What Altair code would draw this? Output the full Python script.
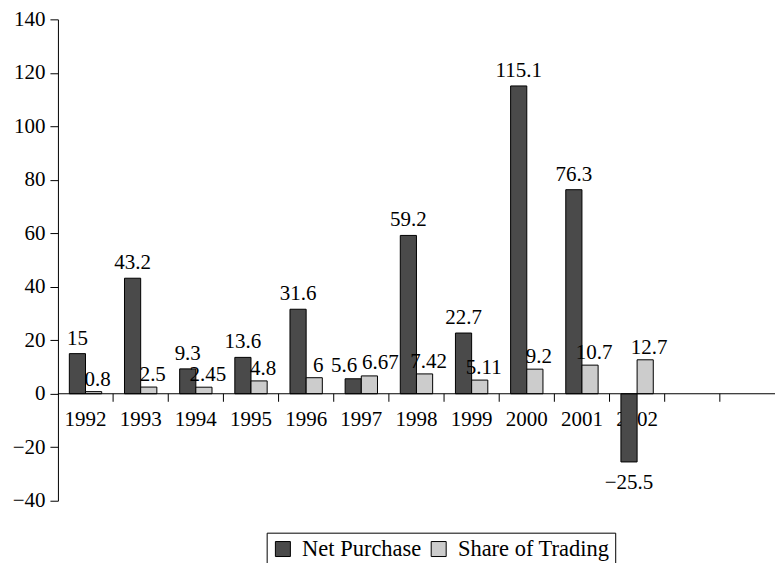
import altair as alt
import pandas as pd

years = ["1992", "1993", "1994", "1995", "1996", "1997", "1998", "1999", "2000", "2001", "2002"]
extra = [" ", "  "]
net_purchase = [15, 43.2, 9.3, 13.6, 31.6, 5.6, 59.2, 22.7, 115.1, 76.3, -25.5]
share_trading = [0.8, 2.5, 2.45, 4.8, 6, 6.67, 7.42, 5.11, 9.2, 10.7, 12.7]
series = ["Net Purchase", "Share of Trading"]
y_ticks = [-40, -20, 0, 20, 40, 60, 80, 100, 120, 140]

rows = []
for i, yr in enumerate(years):
    rows.append({"year": yr, "series": series[0], "value": net_purchase[i]})
    rows.append({"year": yr, "series": series[1], "value": share_trading[i]})
df = pd.DataFrame(rows)
cats = years + extra
tick_df = pd.DataFrame({"year": cats[1:]})
label_df = pd.DataFrame({"year": years})
zero_df = pd.DataFrame({"z": [0]})

FONT = "Liberation Serif"
FS = 21
W = 718

x_scale = alt.Scale(domain=cats, paddingInner=0, paddingOuter=0)
x_enc = alt.X("year:N", sort=cats, scale=x_scale, axis=None)
y_scale = alt.Scale(domain=[-40, 140], nice=False, zero=False)
xoff = alt.XOffset("series:N", sort=series,
                   scale=alt.Scale(domain=series, paddingInner=0, paddingOuter=0.705))

bars = alt.Chart(df).mark_bar(stroke="black", strokeWidth=1).encode(
    x=x_enc,
    xOffset=xoff,
    y=alt.Y("value:Q", scale=y_scale, axis=alt.Axis(title=None, values=y_ticks)),
    color=alt.Color("series:N", sort=series,
                    scale=alt.Scale(domain=series, range=["#4a4a4a", "#cccccc"]),
                    legend=alt.Legend(title=None, orient="none", legendX=209, legendY=514,
                                      direction="horizontal", strokeColor="black", fillColor="white",
                                      padding=5, symbolType="square", symbolSize=225,
                                      symbolStrokeColor="black", symbolStrokeWidth=1,
                                      labelFont=FONT, labelFontSize=22.5, labelColor="black",
                                      labelOffset=8, columnPadding=6)),
)

axis_line = alt.Chart(zero_df).mark_rule(color="black", strokeWidth=1).encode(
    y=alt.Y("z:Q", scale=y_scale), x=alt.value(0), x2=alt.value(W))

ticks = alt.Chart(tick_df).mark_rule(color="black", strokeWidth=1).encode(
    x=alt.X("year:N", sort=cats, scale=x_scale, axis=None, bandPosition=0),
    y=alt.datum(0), y2=alt.datum(-3))

xlabels = alt.Chart(label_df).mark_text(
    font=FONT, fontSize=FS, color="black", baseline="alphabetic", dy=32).encode(
    x=x_enc, y=alt.datum(0), text="year:N")

base_text = alt.Chart(df).encode(x=x_enc, xOffset=xoff, y=alt.Y("value:Q", scale=y_scale),
                                 text=alt.Text("value:Q"))

t_net_pos = base_text.transform_filter(
    "datum.series == 'Net Purchase' && datum.value >= 0 && datum.year != '1997'").mark_text(
    font=FONT, fontSize=FS, color="black", baseline="alphabetic", dy=-9)
t_net_97 = base_text.transform_filter(
    "datum.series == 'Net Purchase' && datum.year == '1997'").mark_text(
    font=FONT, fontSize=FS, color="black", baseline="alphabetic", dy=-7, dx=-9)
t_net_neg = base_text.transform_filter(
    "datum.series == 'Net Purchase' && datum.value < 0").mark_text(
    font=FONT, fontSize=FS, color="black", baseline="alphabetic", dy=27)
t_share = base_text.transform_filter(
    "datum.series == 'Share of Trading' && datum.year != '1997'").mark_text(
    font=FONT, fontSize=FS, color="black", baseline="alphabetic", dy=-6, dx=4)
t_share_97 = base_text.transform_filter(
    "datum.series == 'Share of Trading' && datum.year == '1997'").mark_text(
    font=FONT, fontSize=FS, color="black", baseline="alphabetic", dy=-7, dx=11)

chart = alt.layer(xlabels, bars, axis_line, ticks, t_net_pos, t_net_97, t_net_neg,
                  t_share, t_share_97).properties(
    width=W, height=482, background="white",
    padding={"left": 4, "top": 0, "right": 0, "bottom": 0},
).configure_view(stroke=None).configure_axis(
    grid=False, tickSize=8, tickColor="black", domainColor="black",
    labelFont=FONT, labelFontSize=FS, labelColor="black", labelPadding=5,
)

chart.save("out.html", embed_options={"renderer": "svg", "actions": False})
